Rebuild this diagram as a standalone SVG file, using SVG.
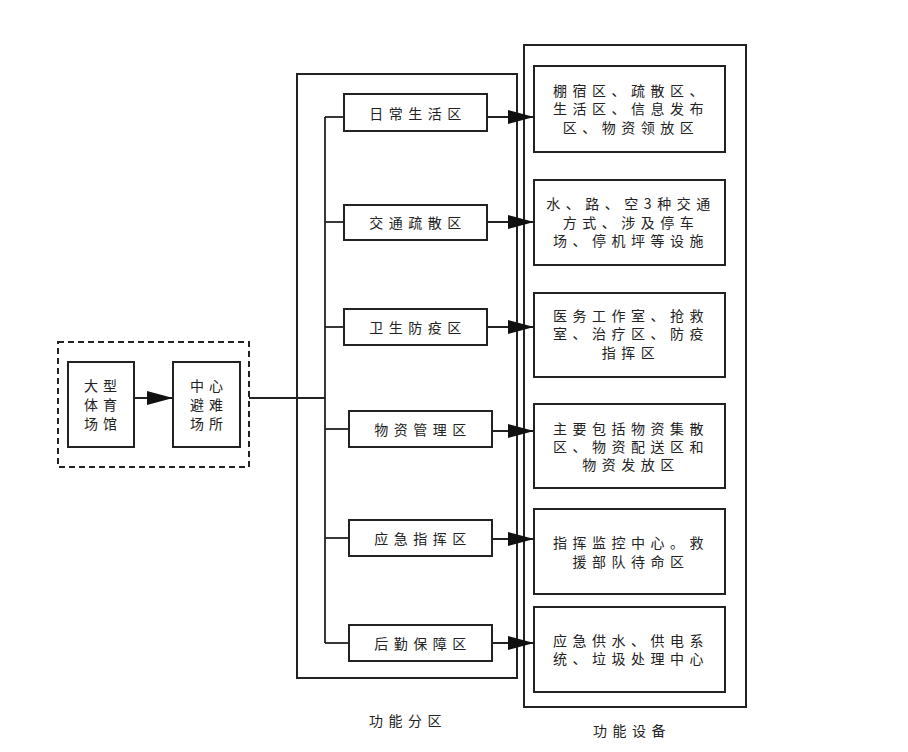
<svg xmlns="http://www.w3.org/2000/svg" width="908" height="752" viewBox="0 0 908 752">
<defs>
<marker id="ah" markerWidth="28" markerHeight="16" refX="26" refY="8" orient="auto" markerUnits="userSpaceOnUse">
<path d="M0,1 L26,8 L0,15 Z" fill="#111"/>
</marker>
<style>
.b{fill:#fff;stroke:#222;stroke-width:2}
.f{fill:none;stroke:#222;stroke-width:2}
.l{fill:none;stroke:#222;stroke-width:1.8}
.t{font-family:"Noto Sans CJK SC","Liberation Sans",sans-serif;font-size:14px;fill:#222;text-anchor:middle;dominant-baseline:central;letter-spacing:5.5px}
.s{letter-spacing:5px}
</style>
</defs>
<rect width="908" height="752" fill="#fff"/>
<rect x="58" y="342" width="191" height="125" fill="none" stroke="#222" stroke-width="2" stroke-dasharray="6,4"/>
<rect class="f" x="297" y="74" width="220" height="604"/>
<rect class="f" x="524" y="45" width="222" height="662"/>
<g id="connectors">
<line class="l" x1="134" y1="398" x2="173" y2="398" marker-end="url(#ah)"/>
<line class="l" x1="249" y1="398" x2="325" y2="398"/>
<line class="l" x1="325" y1="117" x2="325" y2="643"/>
<line class="l" x1="325" y1="117" x2="344" y2="117"/>
<line class="l" x1="325" y1="222" x2="344" y2="222"/>
<line class="l" x1="325" y1="327" x2="344" y2="327"/>
<line class="l" x1="325" y1="429" x2="349" y2="429"/>
<line class="l" x1="325" y1="538" x2="349" y2="538"/>
<line class="l" x1="325" y1="643" x2="349" y2="643"/>
<line class="l" x1="487" y1="117" x2="534" y2="117" marker-end="url(#ah)"/>
<line class="l" x1="487" y1="222" x2="534" y2="222" marker-end="url(#ah)"/>
<line class="l" x1="487" y1="327" x2="534" y2="327" marker-end="url(#ah)"/>
<line class="l" x1="492" y1="431" x2="534" y2="431" marker-end="url(#ah)"/>
<line class="l" x1="492" y1="539" x2="534" y2="539" marker-end="url(#ah)"/>
<line class="l" x1="492" y1="643" x2="534" y2="643" marker-end="url(#ah)"/>
</g>
<g id="n_stadium">
<rect class="b" x="68" y="362" width="66" height="85"/>
<text class="t s" x="103" y="385">大型</text>
<text class="t s" x="103" y="404">体育</text>
<text class="t s" x="103" y="423">场馆</text>
</g>
<g id="n_center">
<rect class="b" x="173" y="362" width="67" height="85"/>
<text class="t s" x="209" y="385">中心</text>
<text class="t s" x="209" y="404">避难</text>
<text class="t s" x="209" y="423">场所</text>
</g>
<g id="n_z1"><rect class="b" x="344" y="94" width="143" height="37"/><text class="t" x="418" y="113">日常生活区</text></g>
<g id="n_z2"><rect class="b" x="344" y="205" width="143" height="35"/><text class="t" x="418" y="222">交通疏散区</text></g>
<g id="n_z3"><rect class="b" x="344" y="309" width="143" height="36"/><text class="t" x="418" y="327">卫生防疫区</text></g>
<g id="n_z4"><rect class="b" x="349" y="411" width="143" height="36"/><text class="t" x="423" y="429">物资管理区</text></g>
<g id="n_z5"><rect class="b" x="349" y="520" width="143" height="36"/><text class="t" x="423" y="538">应急指挥区</text></g>
<g id="n_z6"><rect class="b" x="349" y="625" width="143" height="36"/><text class="t" x="423" y="643">后勤保障区</text></g>
<g id="n_d1"><rect class="b" x="534" y="66" width="191" height="86"/>
<text class="t" x="631" y="90">棚宿区、疏散区、</text>
<text class="t" x="631" y="108">生活区、信息发布</text>
<text class="t" x="631" y="127">区、物资领放区</text></g>
<g id="n_d2"><rect class="b" x="534" y="180" width="191" height="85"/>
<text class="t" x="631" y="203">水、路、空3种交通</text>
<text class="t" x="631" y="222">方式、涉及停车</text>
<text class="t" x="631" y="240">场、停机坪等设施</text></g>
<g id="n_d3"><rect class="b" x="534" y="293" width="191" height="84"/>
<text class="t" x="631" y="315">医务工作室、抢救</text>
<text class="t" x="631" y="333">室、治疗区、防疫</text>
<text class="t" x="631" y="352">指挥区</text></g>
<g id="n_d4"><rect class="b" x="534" y="404" width="191" height="84"/>
<text class="t" x="631" y="428">主要包括物资集散</text>
<text class="t" x="631" y="446">区、物资配送区和</text>
<text class="t" x="631" y="464">物资发放区</text></g>
<g id="n_d5"><rect class="b" x="534" y="509" width="191" height="85"/>
<text class="t" x="631" y="542">指挥监控中心。救</text>
<text class="t" x="631" y="561">援部队待命区</text></g>
<g id="n_d6"><rect class="b" x="534" y="607" width="191" height="85"/>
<text class="t" x="631" y="640">应急供水、供电系</text>
<text class="t" x="631" y="658">统、垃圾处理中心</text></g>
<text class="t" x="408" y="720">功能分区</text>
<text class="t" x="632" y="730">功能设备</text>
</svg>
